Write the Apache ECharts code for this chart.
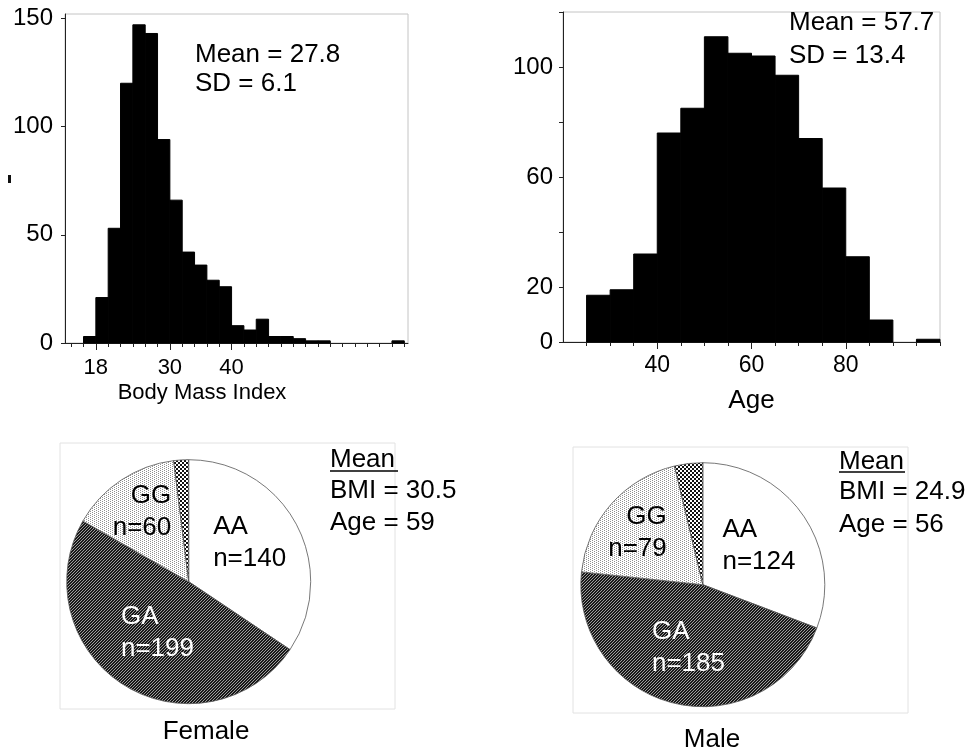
<!DOCTYPE html>
<html>
<head>
<meta charset="utf-8">
<script src="https://cdn.jsdelivr.net/npm/echarts@6/dist/echarts.min.js"></script>
<style>
html,body{margin:0;padding:0;background:#fff;}
#main{width:972px;height:756px;}
</style>
</head>
<body>
<div id="main"></div>
<script>
// --- data ---
var bmiBinStart = [16,18,20,22,24,26,28,30,32,34,36,38,40,42,44,46,48,50,52,54,56,58,60,62,64,66];
var bmiCounts   = [3,21,53,120,147,143,94,66,42,36,29,26,8,6,11,3,3,2,1,1,0,0,0,0,0,1];
var bmiBinWidth = 2;

var ageBinStart = [25,30,35,40,45,50,55,60,65,70,75,80,85,90,95];
var ageCounts   = [17,19,32,76,85,111,105,104,97,74,56,31,8,0,1];
var ageBinWidth = 5;

var genotypes    = ['AA','GA','GG','Other'];
var femaleCounts = [140,199,60,8];
var maleCounts   = [124,185,79,15];

// tick labels / tick positions
var bmiXLabels = [18,30,40];
var bmiXTicks  = [14,16,18,20,22,24,26,28,30,32,34,36,38,40,42,44,46,48,50,52,54,56,58,60,62,64,66,68];
var bmiYLabels = [0,50,100,150];
var ageXLabels = [40,60,80];
var ageXTicks  = [25,30,35,40,45,50,55,60,65,70,75,80,85,90,95,100];
var ageYTicks  = [0,20,40,60,80,100,120];
var ageYLabels = [0,20,60,100];

var FONT = "'Liberation Sans', Arial, sans-serif";

function histData(starts, counts, w) {
  var out = [];
  for (var i = 0; i < starts.length; i++) out.push([starts[i], starts[i] + w, counts[i]]);
  return out;
}

function histItem(params, api) {
  if (api.value(2) <= 0) return null;
  var a = api.coord([api.value(0), api.value(2)]);
  var b = api.coord([api.value(1), 0]);
  return {
    type: 'rect',
    shape: {x: a[0], y: a[1], width: b[0] - a[0], height: b[1] - a[1]},
    style: {fill: '#000', stroke: '#000', lineWidth: 1}
  };
}

// fill patterns for the pie slices
function makePattern(size, draw) {
  var c = document.createElement('canvas');
  c.width = size; c.height = size;
  draw(c.getContext('2d'), size);
  return {image: c, repeat: 'repeat'};
}
var hatch = makePattern(6, function (ctx, s) {
  ctx.fillStyle = '#181818'; ctx.fillRect(0, 0, s, s);
  ctx.fillStyle = '#9c9c9c';
  for (var x = 0; x < s; x++) for (var y = 0; y < s; y++) if ((x + y) % 3 === 0) ctx.fillRect(x, y, 1, 1);
});
var dots = makePattern(4, function (ctx, s) {
  ctx.fillStyle = '#fff'; ctx.fillRect(0, 0, s, s);
  ctx.fillStyle = '#909090';
  ctx.fillRect(0, 0, 1, 1); ctx.fillRect(0, 2, 1, 1);
  ctx.fillRect(2, 1, 1, 1); ctx.fillRect(2, 3, 1, 1);
});
var checker = makePattern(4, function (ctx, s) {
  ctx.fillStyle = '#fff'; ctx.fillRect(0, 0, s, s);
  ctx.fillStyle = '#111';
  ctx.fillRect(0, 0, 2, 2); ctx.fillRect(2, 2, 2, 2);
});
var sliceFill = [{color: '#fff'}, {color: hatch}, {color: dots}, {color: checker}];
var sliceText = ['#000', '#fff', '#000', '#000'];

function pieData(counts) {
  return genotypes.map(function (g, i) {
    return {
      name: g, value: counts[i],
      itemStyle: sliceFill[i],
      label: i === 3 ? {show: false} : {color: sliceText[i]}
    };
  });
}

// label placement relative to the slice's inside point
var femaleLabelPos = [
  {align: 'left', dx: -32, dy: -9},
  {align: 'left', dx: -34, dy: -3},
  {align: 'right', dx: 18, dy: -17},
  {align: 'center', dx: 0, dy: 0}
];
var maleLabelPos = [
  {align: 'left', dx: -33, dy: -3},
  {align: 'left', dx: -36, dy: 1},
  {align: 'right', dx: 12, dy: -10},
  {align: 'center', dx: 0, dy: 0}
];

function pieSeries(center, data, pos) {
  return {
    type: 'pie',
    center: center,
    radius: 122,
    startAngle: 90,
    clockwise: true,
    avoidLabelOverlap: false,
    silent: true,
    itemStyle: {borderColor: '#555', borderWidth: 0.8},
    label: {
      show: true, position: 'inside', fontSize: 26, lineHeight: 32,
      fontFamily: FONT, color: '#000',
      formatter: function (p) { return p.name + '\nn=' + p.value; }
    },
    labelLine: {show: false},
    labelLayout: function (p) {
      var o = pos[p.dataIndex];
      return {hideOverlap: false, align: o.align, dx: o.dx, dy: o.dy};
    },
    data: data
  };
}

function txt(text, x, y, size, align) {
  return {
    type: 'text', x: x, y: y, silent: true,
    style: {text: text, font: size + 'px ' + FONT, fill: '#000',
            align: align || 'left', verticalAlign: 'middle'}
  };
}

var axisLineStyle = {color: '#222', width: 1};

var chart = echarts.init(document.getElementById('main'), null, {renderer: 'canvas'});
var option = {
  animation: false,
  backgroundColor: '#fff',
  grid: [
    {left: 65, top: 14, width: 343, height: 329, show: true, borderColor: '#c4c4c4', borderWidth: 1, outerBoundsMode: 'none'},
    {left: 563, top: 12, width: 377, height: 330, show: true, borderColor: '#c4c4c4', borderWidth: 1, outerBoundsMode: 'none'}
  ],
  xAxis: [
    {gridIndex: 0, type: 'value', position: 'bottom', min: 13, max: 68.6,
     axisLine: {show: true, lineStyle: axisLineStyle},
     axisTick: {show: true, customValues: bmiXLabels, length: 7, lineStyle: axisLineStyle},
     axisLabel: {customValues: bmiXLabels, fontSize: 22, margin: 14, color: '#000', fontFamily: FONT},
     splitLine: {show: false}},
    {gridIndex: 0, type: 'value', position: 'bottom', min: 13, max: 68.6,
     axisLine: {show: false},
     axisTick: {show: true, customValues: bmiXTicks, length: 4, lineStyle: axisLineStyle},
     axisLabel: {show: false}, splitLine: {show: false}},
    {gridIndex: 1, type: 'value', position: 'bottom', min: 20, max: 100,
     name: 'Age', nameLocation: 'middle', nameGap: 46,
     nameTextStyle: {fontSize: 26, color: '#000', fontFamily: FONT},
     axisLine: {show: true, lineStyle: axisLineStyle},
     axisTick: {show: true, customValues: ageXLabels, length: 7, lineStyle: axisLineStyle},
     axisLabel: {customValues: ageXLabels, fontSize: 23, margin: 12, color: '#000', fontFamily: FONT},
     splitLine: {show: false}},
    {gridIndex: 1, type: 'value', position: 'bottom', min: 20, max: 100,
     axisLine: {show: false},
     axisTick: {show: true, customValues: ageXTicks, length: 4, lineStyle: axisLineStyle},
     axisLabel: {show: false}, splitLine: {show: false}}
  ],
  yAxis: [
    {gridIndex: 0, type: 'value', min: 0, max: 152,
     axisLine: {show: true, lineStyle: axisLineStyle},
     axisTick: {show: true, customValues: bmiYLabels, length: 4, lineStyle: axisLineStyle},
     axisLabel: {customValues: bmiYLabels, fontSize: 24, margin: 12, color: '#000', fontFamily: FONT},
     splitLine: {show: false}},
    {gridIndex: 1, type: 'value', min: 0, max: 120,
     axisLine: {show: true, lineStyle: axisLineStyle},
     axisTick: {show: true, customValues: ageYTicks, length: 4, lineStyle: axisLineStyle},
     axisLabel: {customValues: ageYLabels, fontSize: 24, margin: 10, color: '#000', fontFamily: FONT},
     splitLine: {show: false}}
  ],
  series: [
    {type: 'custom', xAxisIndex: 0, yAxisIndex: 0, renderItem: histItem, silent: true,
     encode: {x: [0, 1], y: 2}, data: histData(bmiBinStart, bmiCounts, bmiBinWidth)},
    {type: 'custom', xAxisIndex: 2, yAxisIndex: 1, renderItem: histItem, silent: true,
     encode: {x: [0, 1], y: 2}, data: histData(ageBinStart, ageCounts, ageBinWidth)},
    pieSeries([188.7, 581.7], pieData(femaleCounts), femaleLabelPos),
    pieSeries([702.8, 584.7], pieData(maleCounts), maleLabelPos)
  ],
  graphic: [
    // stray mark left of the BMI axis
    {type: 'rect', shape: {x: 8, y: 175, width: 3, height: 8}, style: {fill: '#111'}, silent: true},
    txt('Mean = 27.8', 195, 55, 26),
    txt('SD = 6.1', 195, 84, 26),
    txt('Body Mass Index', 202, 393, 22, 'center'),
    txt('Mean = 57.7', 789, 23, 26),
    txt('SD = 13.4', 789, 56, 26),
    // frames round the pies
    {type: 'rect', shape: {x: 60, y: 443, width: 335, height: 266}, style: {fill: 'none', stroke: '#e2e2e2', lineWidth: 1}, silent: true, z: -1},
    {type: 'rect', shape: {x: 573, y: 447, width: 335, height: 266}, style: {fill: 'none', stroke: '#e2e2e2', lineWidth: 1}, silent: true, z: -1},
    txt('Mean', 330, 460, 26),
    {type: 'line', shape: {x1: 330, y1: 471, x2: 398, y2: 471}, style: {stroke: '#000', lineWidth: 1.5}, silent: true},
    txt('BMI = 30.5', 330, 491, 26),
    txt('Age = 59', 330, 523, 26),
    txt('Female', 206, 732, 26, 'center'),
    txt('Mean', 839, 462, 26),
    {type: 'line', shape: {x1: 839, y1: 472, x2: 905, y2: 472}, style: {stroke: '#000', lineWidth: 1.5}, silent: true},
    txt('BMI = 24.9', 839, 492, 26),
    txt('Age = 56', 839, 525, 26),
    txt('Male', 712, 740, 26, 'center')
  ]
};
chart.setOption(option);
</script>
</body>
</html>
